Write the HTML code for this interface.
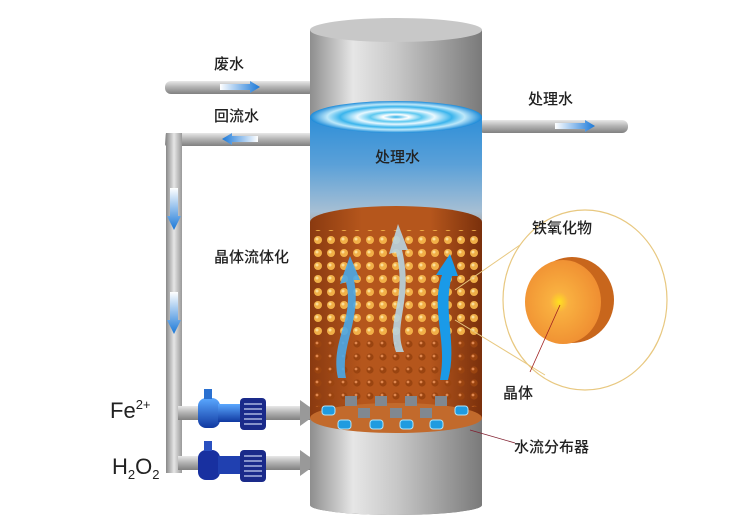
<!DOCTYPE html>
<html><head><meta charset="utf-8"><style>
body{margin:0;background:#fff}
svg{display:block}
text{font-family:"Liberation Sans","Noto Sans CJK SC",sans-serif;fill:#222}
</style></head><body>
<svg width="748" height="526" viewBox="0 0 748 526" xmlns="http://www.w3.org/2000/svg">
<defs>
<linearGradient id="cyl" x1="0" x2="1"><stop offset="0" stop-color="#8e8e8e"/><stop offset=".25" stop-color="#e6e6e6"/><stop offset=".5" stop-color="#c8c8c8"/><stop offset="1" stop-color="#7a7a7a"/></linearGradient>
<linearGradient id="pipeH" x1="0" y1="0" x2="0" y2="1"><stop offset="0" stop-color="#e8e8e8"/><stop offset=".5" stop-color="#b0b0b0"/><stop offset="1" stop-color="#808080"/></linearGradient>
<linearGradient id="pipeV" x1="0" x2="1"><stop offset="0" stop-color="#888"/><stop offset=".5" stop-color="#e6e6e6"/><stop offset="1" stop-color="#999"/></linearGradient>
<linearGradient id="water" x1="0" y1="0" x2="0" y2="1"><stop offset="0" stop-color="#2f8fd8"/><stop offset=".15" stop-color="#5aa0d8"/><stop offset=".3" stop-color="#a6bfd4"/><stop offset=".4" stop-color="#b08a6a"/><stop offset=".5" stop-color="#9a4a18"/></linearGradient>
<linearGradient id="bed" x1="0" x2="1"><stop offset="0" stop-color="#8a3a10"/><stop offset=".3" stop-color="#b5561c"/><stop offset=".7" stop-color="#b5561c"/><stop offset="1" stop-color="#7a300c"/></linearGradient>
<radialGradient id="ripple" cx=".5" cy=".5" r=".5"><stop offset="0" stop-color="#2ab0e8"/><stop offset=".15" stop-color="#fff"/><stop offset=".3" stop-color="#5cc8f0"/><stop offset=".45" stop-color="#e8f8ff"/><stop offset=".65" stop-color="#3ab4ec"/><stop offset=".8" stop-color="#bde8fa"/><stop offset="1" stop-color="#1c8ad8"/></radialGradient>
<radialGradient id="orb" cx=".45" cy=".5" r=".6"><stop offset="0" stop-color="#ffe020"/><stop offset=".2" stop-color="#f9b040"/><stop offset="1" stop-color="#ee8a30"/></radialGradient>
<pattern id="dots" width="13" height="13" patternUnits="userSpaceOnUse"><circle cx="6" cy="6" r="4" fill="#f5b54a"/><circle cx="5" cy="5" r="1.5" fill="#ffe6a0"/></pattern>
<pattern id="dots2" width="13" height="13" patternUnits="userSpaceOnUse"><circle cx="6" cy="6" r="3.6" fill="#9a4410"/><circle cx="5" cy="5" r="1.4" fill="#e08850"/></pattern>
<linearGradient id="arr" x1="0" x2="1"><stop offset="0" stop-color="#fff"/><stop offset="1" stop-color="#1a78d8"/></linearGradient>
<linearGradient id="arrL" x1="1" x2="0"><stop offset="0" stop-color="#fff"/><stop offset="1" stop-color="#1a78d8"/></linearGradient>
<linearGradient id="arrD" x1="0" y1="0" x2="0" y2="1"><stop offset="0" stop-color="#fff"/><stop offset="1" stop-color="#1a78d8"/></linearGradient>
<linearGradient id="pump" x1="0" y1="0" x2="0" y2="1"><stop offset="0" stop-color="#5aa8ff"/><stop offset="1" stop-color="#1038a0"/></linearGradient>
</defs>

<rect x="165" y="81" width="150" height="13" rx="6" fill="url(#pipeH)"/>
<rect x="165" y="133" width="150" height="13" rx="2" fill="url(#pipeH)"/>
<rect x="478" y="120" width="150" height="13" rx="6" fill="url(#pipeH)"/>
<rect x="166" y="133" width="16" height="340" fill="url(#pipeV)"/>
<rect x="178" y="406" width="140" height="14" fill="url(#pipeH)"/>
<rect x="178" y="456" width="140" height="14" fill="url(#pipeH)"/>
<polygon points="300,400 318,413 300,426" fill="#999"/>
<polygon points="300,450 318,463 300,476" fill="#999"/>
<path d="M220 84h30v-3l10 6-10 6v-3h-30z" fill="url(#arr)"/>
<path d="M258 136h-26v-3l-10 6 10 6v-3h26z" fill="url(#arrL)"/>
<path d="M555 123h30v-3l10 6-10 6v-3h-30z" fill="url(#arr)"/>
<path d="M170 188v28h-3l7 14 7-14h-3v-28z" fill="url(#arrD)"/>
<path d="M170 292v28h-3l7 14 7-14h-3v-28z" fill="url(#arrD)"/>

<rect x="310" y="30" width="172" height="475" fill="url(#cyl)"/>
<ellipse cx="396" cy="30" rx="86" ry="12" fill="#c8c8c8"/>
<ellipse cx="396" cy="505" rx="86" ry="10" fill="#8a8a8a"/>
<path d="M310 117 L482 117 L482 420 A86 12 0 0 1 310 420 Z" fill="url(#water)"/>
<path d="M310 222 A86 16 0 0 1 482 222 L482 420 A86 12 0 0 1 310 420 Z" fill="url(#bed)"/>
<rect x="313" y="230" width="166" height="110" fill="url(#dots)" opacity=".95"/>
<rect x="313" y="340" width="166" height="67" fill="url(#dots2)"/>
<ellipse cx="396" cy="117" rx="86" ry="16" fill="url(#ripple)"/>
<path d="M310 418 L482 418 L482 505 A86 10 0 0 1 310 505 Z" fill="url(#cyl)"/>
<ellipse cx="396" cy="418" rx="86" ry="15" fill="#c26a2c"/>
<g fill="#1f9be0" stroke="#aee4fb" stroke-width="1">
<rect x="322" y="406" width="13" height="9" rx="3"/><rect x="338" y="420" width="13" height="9" rx="3"/><rect x="370" y="420" width="13" height="9" rx="3"/><rect x="400" y="420" width="13" height="9" rx="3"/><rect x="430" y="420" width="13" height="9" rx="3"/><rect x="455" y="406" width="13" height="9" rx="3"/>
</g>
<g fill="#808890"><rect x="345" y="396" width="12" height="10"/><rect x="375" y="396" width="12" height="10"/><rect x="405" y="396" width="12" height="10"/><rect x="435" y="396" width="12" height="10"/><rect x="358" y="408" width="12" height="10"/><rect x="390" y="408" width="12" height="10"/><rect x="420" y="408" width="12" height="10"/></g>
<path d="M338 378 C330 340 355 320 346 282 L340 284 L350 256 L360 280 L354 280 C362 320 340 345 346 378 Z" fill="#4aa8e8" opacity=".9"/>
<path d="M396 352 C385 320 408 300 396 252 L389 254 L398 224 L408 250 L402 250 C414 300 392 325 404 352 Z" fill="#b8d4e0" opacity=".9"/>
<path d="M440 380 C448 340 430 310 442 275 L436 275 L450 254 L458 276 L452 276 C442 310 458 345 448 380 Z" fill="#1a9ae8"/>
<g>
<rect x="198" y="398" width="22" height="30" rx="8" fill="url(#pump)"/><rect x="204" y="389" width="8" height="10" fill="#2a70d0"/>
<rect x="218" y="404" width="22" height="18" fill="url(#pump)"/>
<rect x="240" y="398" width="26" height="32" rx="4" fill="#1a2a8a"/>
<g stroke="#c8d0f0" stroke-width="1.2"><line x1="244" y1="404" x2="262" y2="404"/><line x1="244" y1="409" x2="262" y2="409"/><line x1="244" y1="414" x2="262" y2="414"/><line x1="244" y1="419" x2="262" y2="419"/><line x1="244" y1="424" x2="262" y2="424"/></g>
</g>
<g transform="translate(0,52)">
<rect x="198" y="398" width="22" height="30" rx="8" fill="#1830a0"/><rect x="204" y="389" width="8" height="10" fill="#2a50c0"/>
<rect x="218" y="404" width="22" height="18" fill="#2040b0"/>
<rect x="240" y="398" width="26" height="32" rx="4" fill="#1a2a8a"/>
<g stroke="#c8d0f0" stroke-width="1.2"><line x1="244" y1="404" x2="262" y2="404"/><line x1="244" y1="409" x2="262" y2="409"/><line x1="244" y1="414" x2="262" y2="414"/><line x1="244" y1="419" x2="262" y2="419"/><line x1="244" y1="424" x2="262" y2="424"/></g>
</g>
<ellipse cx="585" cy="300" rx="82" ry="90" fill="none" stroke="#e8c880" stroke-width="1.2"/>
<line x1="455" y1="290" x2="520" y2="245" stroke="#e8c880"/>
<line x1="455" y1="320" x2="545" y2="375" stroke="#e8c880"/>
<ellipse cx="572" cy="300" rx="42" ry="43" fill="#c8661c"/>
<ellipse cx="563" cy="302" rx="38" ry="42" fill="url(#orb)"/>
<line x1="560" y1="305" x2="530" y2="372" stroke="#a02020" stroke-width="0.8"/>
<line x1="470" y1="430" x2="515" y2="443" stroke="#802030" stroke-width="0.8"/>
<g font-size="15" font-weight="bold" style="font-weight:500">
<text x="214" y="69">废水</text>
<text x="214" y="121">回流水</text>
<text x="528" y="104">处理水</text>
<text x="375" y="162">处理水</text>
<text x="214" y="262">晶体流体化</text>
<text x="532" y="233">铁氧化物</text>
<text x="503" y="398">晶体</text>
<text x="514" y="452">水流分布器</text>
</g>
<text x="110" y="418" font-size="22">Fe<tspan font-size="13" dy="-9">2+</tspan></text>
<text x="112" y="474" font-size="22">H<tspan font-size="13" dy="5">2</tspan><tspan dy="-5">O</tspan><tspan font-size="13" dy="5">2</tspan></text>
</svg>
</body></html>
